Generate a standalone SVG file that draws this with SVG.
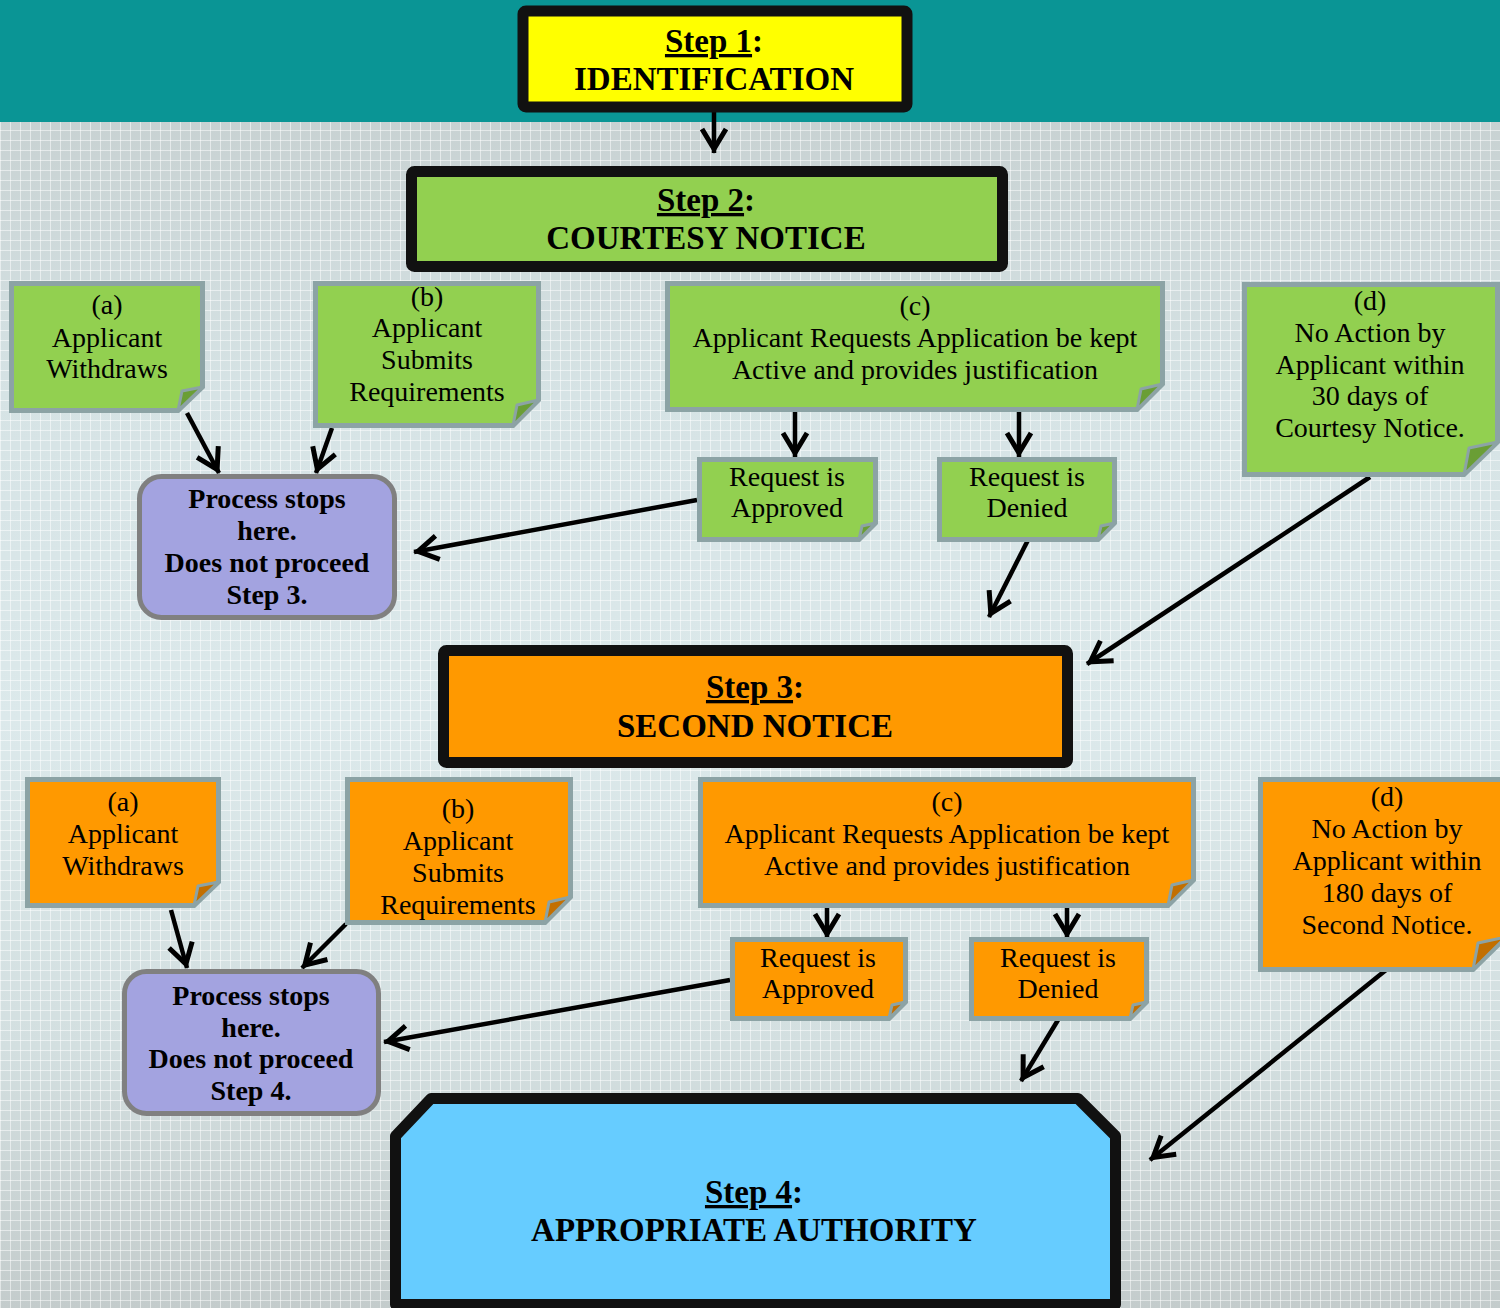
<svg xmlns="http://www.w3.org/2000/svg" width="1500" height="1308" viewBox="0 0 1500 1308">
<defs>
  <linearGradient id="bg" x1="0" y1="0" x2="0" y2="1">
    <stop offset="0" stop-color="#c2caca"/>
    <stop offset="0.3" stop-color="#d6e3e5"/>
    <stop offset="0.55" stop-color="#dce9eb"/>
    <stop offset="0.8" stop-color="#d3dfe0"/>
    <stop offset="1" stop-color="#c4cccc"/>
  </linearGradient>
  <pattern id="grid" width="10" height="10" patternUnits="userSpaceOnUse">
    <path d="M0 0.5 H10 M0.5 0 V10" stroke="#ffffff" stroke-opacity="0.5" stroke-width="1" fill="none"/>
  </pattern>
  <marker id="ah" markerUnits="userSpaceOnUse" markerWidth="40" markerHeight="40" viewBox="-30 -20 40 40" refX="0" refY="0" orient="auto">
    <path d="M-24,-12 L-4,0 L-24,12" fill="none" stroke="#000" stroke-width="5" stroke-linejoin="miter" stroke-linecap="butt"/>
  </marker>
</defs>
<style>
  .note-g { fill: #92d050; stroke: #8ca3a5; stroke-width: 5; stroke-linejoin: miter; }
  .note-o { fill: #ff9900; stroke: #8ca3a5; stroke-width: 5; stroke-linejoin: miter; }
  .fold-g { fill: #6a9e35; stroke: #8ca3a5; stroke-width: 3; stroke-linejoin: round; }
  .fold-o { fill: #c26f00; stroke: #8ca3a5; stroke-width: 3; stroke-linejoin: round; }
  .step { stroke: #111111; stroke-width: 11; stroke-linejoin: round; }
  .stop { fill: #a3a3e0; stroke: #808080; stroke-width: 5; }
  .t { font-family: "Liberation Serif", "Times New Roman", serif; font-size: 28px; fill: #000; text-anchor: middle; }
  .tb { font-family: "Liberation Serif", "Times New Roman", serif; font-size: 28px; font-weight: bold; fill: #000; text-anchor: middle; }
  .th { font-family: "Liberation Serif", "Times New Roman", serif; font-size: 33px; font-weight: bold; fill: #000; text-anchor: middle; }
  .u { text-decoration: underline; }
  .conn line { stroke: #000; stroke-width: 4.5; marker-end: url(#ah); }
</style>

<!-- background -->
<rect x="0" y="0" width="1500" height="1308" fill="url(#bg)"/>
<rect x="0" y="0" width="1500" height="1308" fill="url(#grid)"/>
<rect x="0" y="0" width="1500" height="122" fill="#0a9595"/>

<!-- connectors -->
<g id="connectors" class="conn">
  <line x1="714" y1="112" x2="714" y2="153"/>
  <line x1="187" y1="413" x2="219" y2="473"/>
  <line x1="332" y1="428" x2="316" y2="473"/>
  <line x1="795" y1="412" x2="795" y2="457"/>
  <line x1="1019" y1="412" x2="1019" y2="457"/>
  <line x1="697" y1="500" x2="414" y2="552"/>
  <line x1="1028" y1="540" x2="989" y2="617"/>
  <line x1="1370" y1="477" x2="1087" y2="664"/>
  <line x1="171" y1="910" x2="187" y2="968"/>
  <line x1="346" y1="924" x2="302" y2="968"/>
  <line x1="827" y1="908" x2="827" y2="938"/>
  <line x1="1067" y1="908" x2="1067" y2="938"/>
  <line x1="730" y1="980" x2="384" y2="1042"/>
  <line x1="1058" y1="1020" x2="1021" y2="1081"/>
  <line x1="1386" y1="970" x2="1150" y2="1160"/>
</g>

<!-- Step 1 -->
<g id="step1">
  <rect class="step" x="523" y="11" width="384" height="96" rx="3" fill="#ffff00"/>
  <text class="th" x="714" y="52"><tspan class="u">Step 1</tspan>:</text>
  <text class="th" x="714" y="90">IDENTIFICATION</text>
</g>

<!-- Step 2 -->
<g id="step2">
  <rect class="step" x="411.5" y="171.5" width="591" height="95" rx="3" fill="#92d050"/>
  <text class="th" x="706" y="211"><tspan class="u">Step 2</tspan>:</text>
  <text class="th" x="706" y="249">COURTESY NOTICE</text>
</g>

<!-- green (a) -->
<g id="g-a">
  <path class="note-g" d="M11.5,283.5 H202.5 V387 L178,410.5 H11.5 Z"/>
  <path class="fold-g" d="M178,410.5 L182,391 L202.5,387 Z"/>
  <text class="t" x="107" y="314">(a)</text>
  <text class="t" x="107" y="347">Applicant</text>
  <text class="t" x="107" y="378">Withdraws</text>
</g>

<!-- green (b) -->
<g id="g-b">
  <path class="note-g" d="M315.5,283.5 H538.5 V400 L513,425.5 H315.5 Z"/>
  <path class="fold-g" d="M513,425.5 L517,405 L538.5,400 Z"/>
  <text class="t" x="427" y="306">(b)</text>
  <text class="t" x="427" y="337">Applicant</text>
  <text class="t" x="427" y="369">Submits</text>
  <text class="t" x="427" y="401">Requirements</text>
</g>

<!-- green (c) -->
<g id="g-c">
  <path class="note-g" d="M667.5,283.5 H1162.5 V384 L1137,409.5 H667.5 Z"/>
  <path class="fold-g" d="M1137,409.5 L1141,389 L1162.5,384 Z"/>
  <text class="t" x="915" y="315">(c)</text>
  <text class="t" x="915" y="347">Applicant Requests Application be kept</text>
  <text class="t" x="915" y="379">Active and provides justification</text>
</g>

<!-- green (d) -->
<g id="g-d">
  <path class="note-g" d="M1244.5,284.5 H1497.5 V442 L1464,474.5 H1244.5 Z"/>
  <path class="fold-g" d="M1464,474.5 L1469,448 L1497.5,442 Z"/>
  <text class="t" x="1370" y="310">(d)</text>
  <text class="t" x="1370" y="342">No Action by</text>
  <text class="t" x="1370" y="374">Applicant within</text>
  <text class="t" x="1370" y="405">30 days of</text>
  <text class="t" x="1370" y="437">Courtesy Notice.</text>
</g>

<!-- green approved -->
<g id="g-approved">
  <path class="note-g" d="M699.5,459.5 H875.5 V523 L859,539.5 H699.5 Z"/>
  <path class="fold-g" d="M859,539.5 L862,526 L875.5,523 Z"/>
  <text class="t" x="787" y="486">Request is</text>
  <text class="t" x="787" y="517">Approved</text>
</g>

<!-- green denied -->
<g id="g-denied">
  <path class="note-g" d="M939.5,459.5 H1114.5 V523 L1098,539.5 H939.5 Z"/>
  <path class="fold-g" d="M1098,539.5 L1101,526 L1114.5,523 Z"/>
  <text class="t" x="1027" y="486">Request is</text>
  <text class="t" x="1027" y="517">Denied</text>
</g>

<!-- process stops 1 -->
<g id="stop1">
  <rect class="stop" x="139.5" y="476.5" width="255" height="141" rx="22"/>
  <text class="tb" x="267" y="508">Process stops</text>
  <text class="tb" x="267" y="540">here.</text>
  <text class="tb" x="267" y="572">Does not proceed</text>
  <text class="tb" x="267" y="604">Step 3.</text>
</g>

<!-- Step 3 -->
<g id="step3">
  <rect class="step" x="443.5" y="650.5" width="624" height="112" rx="3" fill="#ff9900"/>
  <text class="th" x="755" y="698"><tspan class="u">Step 3</tspan>:</text>
  <text class="th" x="755" y="737">SECOND NOTICE</text>
</g>

<!-- orange (a) -->
<g id="o-a">
  <path class="note-o" d="M27.5,779.5 H218.5 V882 L194,905.5 H27.5 Z"/>
  <path class="fold-o" d="M194,905.5 L198,886 L218.5,882 Z"/>
  <text class="t" x="123" y="811">(a)</text>
  <text class="t" x="123" y="843">Applicant</text>
  <text class="t" x="123" y="875">Withdraws</text>
</g>

<!-- orange (b) -->
<g id="o-b">
  <path class="note-o" d="M347.5,779.5 H570.5 V897 L545,922.5 H347.5 Z"/>
  <path class="fold-o" d="M545,922.5 L549,902 L570.5,897 Z"/>
  <text class="t" x="458" y="818">(b)</text>
  <text class="t" x="458" y="850">Applicant</text>
  <text class="t" x="458" y="882">Submits</text>
  <text class="t" x="458" y="914">Requirements</text>
</g>

<!-- orange (c) -->
<g id="o-c">
  <path class="note-o" d="M700.5,779.5 H1193.5 V880 L1168,905.5 H700.5 Z"/>
  <path class="fold-o" d="M1168,905.5 L1172,885 L1193.5,880 Z"/>
  <text class="t" x="947" y="811">(c)</text>
  <text class="t" x="947" y="843">Applicant Requests Application be kept</text>
  <text class="t" x="947" y="875">Active and provides justification</text>
</g>

<!-- orange (d) -->
<g id="o-d">
  <path class="note-o" d="M1260.5,779.5 H1506 V937 L1473,969.5 H1260.5 Z"/>
  <path class="fold-o" d="M1473,969.5 L1478,943 L1506,937 Z"/>
  <text class="t" x="1387" y="806">(d)</text>
  <text class="t" x="1387" y="838">No Action by</text>
  <text class="t" x="1387" y="870">Applicant within</text>
  <text class="t" x="1387" y="902">180 days of</text>
  <text class="t" x="1387" y="934">Second Notice.</text>
</g>

<!-- orange approved -->
<g id="o-approved">
  <path class="note-o" d="M732.5,939.5 H905.5 V1002 L889,1018.5 H732.5 Z"/>
  <path class="fold-o" d="M889,1018.5 L892,1005 L905.5,1002 Z"/>
  <text class="t" x="818" y="967">Request is</text>
  <text class="t" x="818" y="998">Approved</text>
</g>

<!-- orange denied -->
<g id="o-denied">
  <path class="note-o" d="M971.5,939.5 H1146.5 V1002 L1130,1018.5 H971.5 Z"/>
  <path class="fold-o" d="M1130,1018.5 L1133,1005 L1146.5,1002 Z"/>
  <text class="t" x="1058" y="967">Request is</text>
  <text class="t" x="1058" y="998">Denied</text>
</g>

<!-- process stops 2 -->
<g id="stop2">
  <rect class="stop" x="124.5" y="971.5" width="254" height="142" rx="22"/>
  <text class="tb" x="251" y="1005">Process stops</text>
  <text class="tb" x="251" y="1037">here.</text>
  <text class="tb" x="251" y="1068">Does not proceed</text>
  <text class="tb" x="251" y="1100">Step 4.</text>
</g>

<!-- Step 4 -->
<g id="step4">
  <path class="step" fill="#66ccff" d="M395.5,1136 L431,1098.5 H1078 L1115.5,1136 V1304.5 H395.5 Z"/>
  <text class="th" x="754" y="1203"><tspan class="u">Step 4</tspan>:</text>
  <text class="th" x="754" y="1241">APPROPRIATE AUTHORITY</text>
</g>
</svg>
